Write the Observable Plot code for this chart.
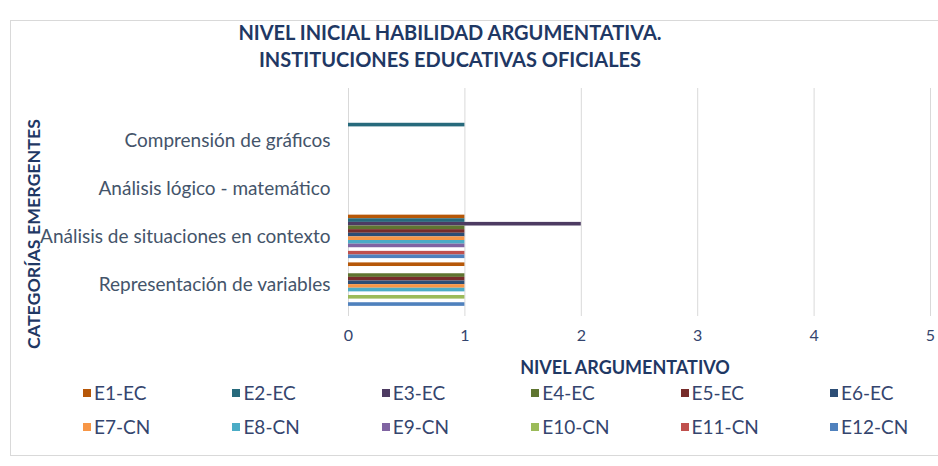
<!DOCTYPE html>
<html>
<head>
<meta charset="utf-8">
<script src="https://cdn.jsdelivr.net/npm/d3@7"></script>
<script src="https://cdn.jsdelivr.net/npm/@observablehq/plot@0.6"></script>
<style>
  html, body { margin: 0; padding: 0; background: #fff; }
  #wrap { position: relative; width: 938px; height: 466px; overflow: hidden; font-family: Lato, "Open Sans", sans-serif; }
  #wrap svg { position: absolute; left: 0; top: 0; }
  #frame { position: absolute; left: 10px; top: 20px; width: 940px; height: 436px; border: 1px solid #d9d9d9; box-sizing: border-box; }
  .title { position: absolute; left: 0; width: 900px; text-align: center; font-weight: 700; font-size: 20px; line-height: 24px; color: #1f3864; white-space: nowrap; }
  #ytitle { position: absolute; left: 33px; top: 234px; transform: translate(-50%, -50%) rotate(-90deg); font-weight: 700; font-size: 17.8px; color: #1f3864; white-space: nowrap; }
  #xtitle { position: absolute; left: 625px; top: 367px; transform: translate(-50%, -50%); font-weight: 700; font-size: 18px; color: #1f3864; white-space: nowrap; }
  .leg { position: absolute; font-size: 19px; line-height: 23px; color: #34456e; white-space: nowrap; display: flex; align-items: center; }
  .leg i { display: inline-block; width: 8px; height: 8px; margin-right: 3px; }
</style>
</head>
<body>
<div id="wrap">
  <div id="frame"></div>
</div>
<script>
// ---- data ----
const titleLines = ["NIVEL INICIAL HABILIDAD ARGUMENTATIVA.", "INSTITUCIONES EDUCATIVAS OFICIALES"];
const yTitle = "CATEGORÍAS EMERGENTES";
const xTitle = "NIVEL ARGUMENTATIVO";
const categories = [
  "Comprensión de gráficos",
  "Análisis lógico - matemático",
  "Análisis de situaciones en contexto",
  "Representación de variables"
];
const series = ["E1-EC","E2-EC","E3-EC","E4-EC","E5-EC","E6-EC","E7-CN","E8-CN","E9-CN","E10-CN","E11-CN","E12-CN"];
const comprensionGraficos      = [0,1,0,0,0,0,0,0,0,0,0,0];
const analisisLogico           = [0,0,0,0,0,0,0,0,0,0,0,0];
const analisisSituaciones      = [1,1,2,1,1,1,1,1,1,0,1,1];
const representacionVariables  = [1,0,0,1,1,1,1,1,0,1,0,1];
const seriesColors = ["#b65708","#276a7c","#4d3b62","#5f7530","#772c2a","#2c4d75",
                      "#f79646","#4bacc6","#8064a2","#9bbb59","#c0504d","#4f81bd"];
const xTicks = [0,1,2,3,4,5];

const valuesByCategory = [comprensionGraficos, analisisLogico, analisisSituaciones, representacionVariables];
const rows = [];
categories.forEach((c, ci) => series.forEach((s, si) => rows.push({category: c, series: s, value: valuesByCategory[ci][si]})));

const wrap = document.getElementById("wrap");
const W = 938, H = 466;
const mLeft = 348, mRight = 8;

// grid + x axis layer
const grid = Plot.plot({
  width: W, height: H,
  marginLeft: mLeft, marginRight: mRight, marginTop: 88, marginBottom: 150,
  style: {background: "transparent", fontFamily: "Lato, 'Open Sans', sans-serif"},
  x: {domain: [0, 5]},
  marks: [
    Plot.ruleX(xTicks, {stroke: "#d9d9d9", strokeWidth: 1}),
    Plot.axisX({ticks: xTicks, tickSize: 0, tickPadding: 13, label: null, fontSize: 16, color: "#34456e", tickFormat: d3.format("d")})
  ]
});
wrap.appendChild(grid);

// bars layer
const bars = Plot.plot({
  width: W, height: H,
  marginLeft: mLeft, marginRight: mRight, marginTop: 117, marginBottom: 158,
  style: {background: "transparent", fontFamily: "Lato, 'Open Sans', sans-serif"},
  x: {domain: [0, 5], axis: null},
  fy: {domain: categories, paddingInner: 0.09, paddingOuter: 0.045, round: false, axis: null},
  y: {domain: series, padding: 0, round: false, axis: null},
  color: {domain: series, range: seriesColors},
  marks: [
    Plot.barX(rows.filter(d => d.value > 0), {x: "value", y: "series", fy: "category", fill: "series"}),
    Plot.axisFy({anchor: "left", tickSize: 0, tickPadding: 18, label: null, fontSize: 19, color: "#44546a"})
  ]
});
wrap.appendChild(bars);

// titles
titleLines.forEach((t, i) => {
  const d = document.createElement("div");
  d.className = "title";
  d.textContent = t;
  d.style.top = (20 + i * 27) + "px";
  wrap.appendChild(d);
});
const yt = document.createElement("div"); yt.id = "ytitle"; yt.textContent = yTitle; wrap.appendChild(yt);
const xt = document.createElement("div"); xt.id = "xtitle"; xt.textContent = xTitle; wrap.appendChild(xt);

// legend
series.forEach((s, i) => {
  const col = i % 6, row = Math.floor(i / 6);
  const d = document.createElement("div");
  d.className = "leg";
  d.style.left = (83 + col * 149.4) + "px";
  d.style.top = (381 + row * 34) + "px";
  d.innerHTML = `<i style="background:${seriesColors[i]}"></i>`;
  d.appendChild(document.createTextNode(s));
  wrap.appendChild(d);
});
</script>
</body>
</html>
